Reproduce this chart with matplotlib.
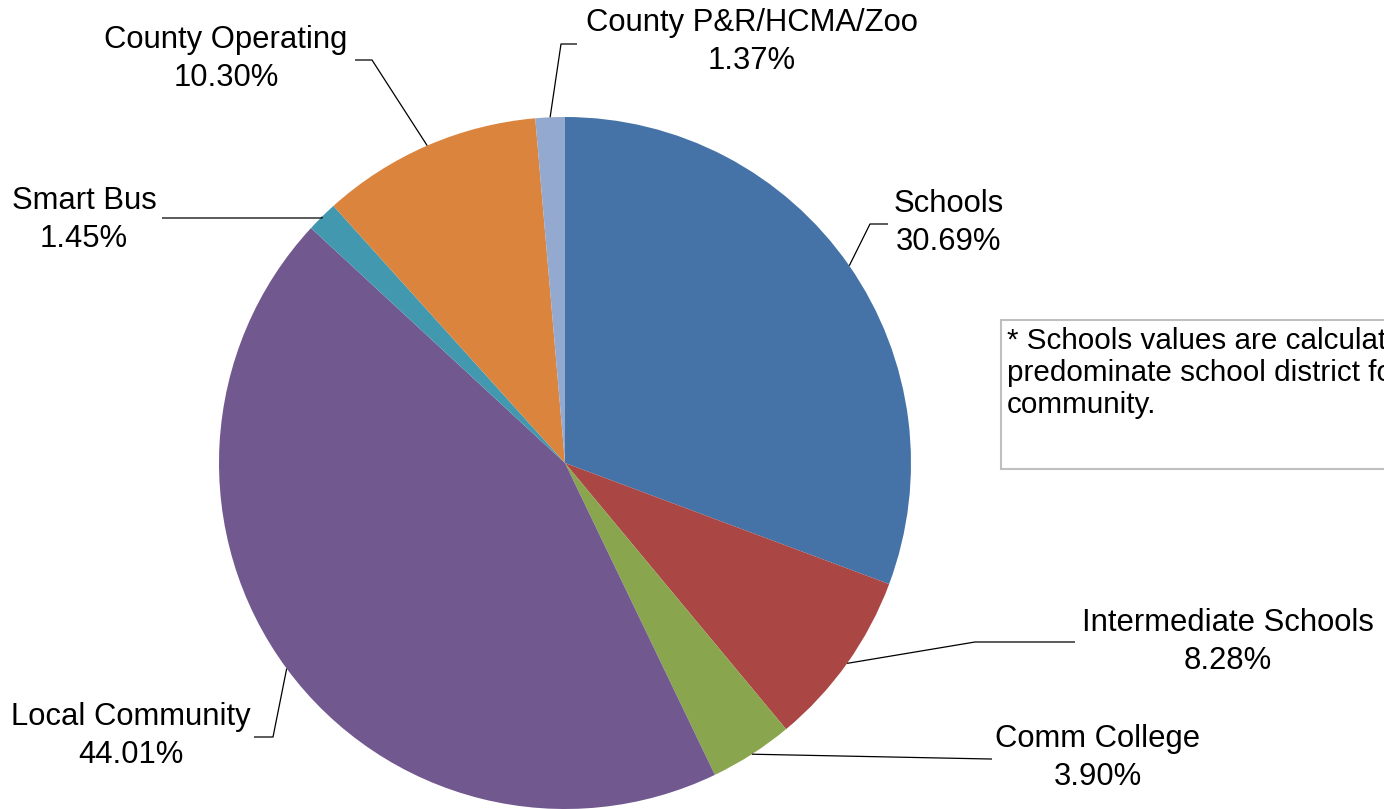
import matplotlib
matplotlib.use("Agg")
import matplotlib.pyplot as plt
import numpy as np

categories = ["Schools", "Intermediate Schools", "Comm College", "Local Community",
              "Smart Bus", "County Operating", "County P&R/HCMA/Zoo"]
values = [30.69, 8.28, 3.90, 44.01, 1.45, 10.30, 1.37]
colors = ["#4572A7", "#AA4643", "#89A54E", "#71588F", "#4198AF", "#DB843D", "#93A9CF"]
note_lines = ["* Schools values are calculated using the",
              "predominate school district for the",
              "community."]

W, H = 1384, 809
fig = plt.figure(figsize=(W / 100, H / 100), dpi=100)
ax = fig.add_axes([0, 0, 1, 1])

cx, cy, R = 565, H - 463, 346
wedges, _ = ax.pie(values, colors=colors, startangle=90, counterclock=False,
                   center=(cx, cy), radius=R, frame=False,
                   wedgeprops=dict(linewidth=0))
ax.set_xlim(0, W)
ax.set_ylim(0, H)
ax.set_aspect("equal")
ax.axis("off")

font = "Liberation Sans"
fs = 22.3

# (elbow), (line end), (label center) in pixel coords, top-left origin
layout = {
    "Schools": ((870, 224), (888, 224), (949, 223)),
    "Intermediate Schools": ((975, 642), (1075, 642), (1228, 642)),
    "Comm College": ((990, 759), (992, 759), (1098, 758)),
    "Local Community": ((273, 737), (254, 737), (131, 736)),
    "Smart Bus": ((322, 218), (162, 218), (84, 220)),
    "County Operating": ((372, 60), (355, 60), (226, 59)),
    "County P&R/HCMA/Zoo": ((561, 44), (577, 44), (752, 42)),
}

for w, cat, val in zip(wedges, categories, values):
    ang = np.deg2rad((w.theta1 + w.theta2) / 2)
    sx = cx + R * np.cos(ang)
    sy = cy + R * np.sin(ang)
    (ex, ey), (lx, ly), (tx, ty) = layout[cat]
    ax.plot([sx, ex, lx], [sy, H - ey, H - ly], color="black", lw=0.9,
            solid_capstyle="butt", clip_on=False)
    ax.text(tx, H - ty, f"{cat}\n{val:.2f}%", ha="center", va="center",
            fontsize=fs, family=font, linespacing=1.33)

# note box
box = plt.Rectangle((1001, H - 469), 500, 149, facecolor="white",
                    edgecolor="#BFBFBF", lw=1.5, clip_on=True)
ax.add_patch(box)
ax.text(1007, H - 373, "\n".join(note_lines),
        ha="left", va="center", fontsize=21.3, family=font, linespacing=1.17)

fig.savefig("out.png", dpi=100)
